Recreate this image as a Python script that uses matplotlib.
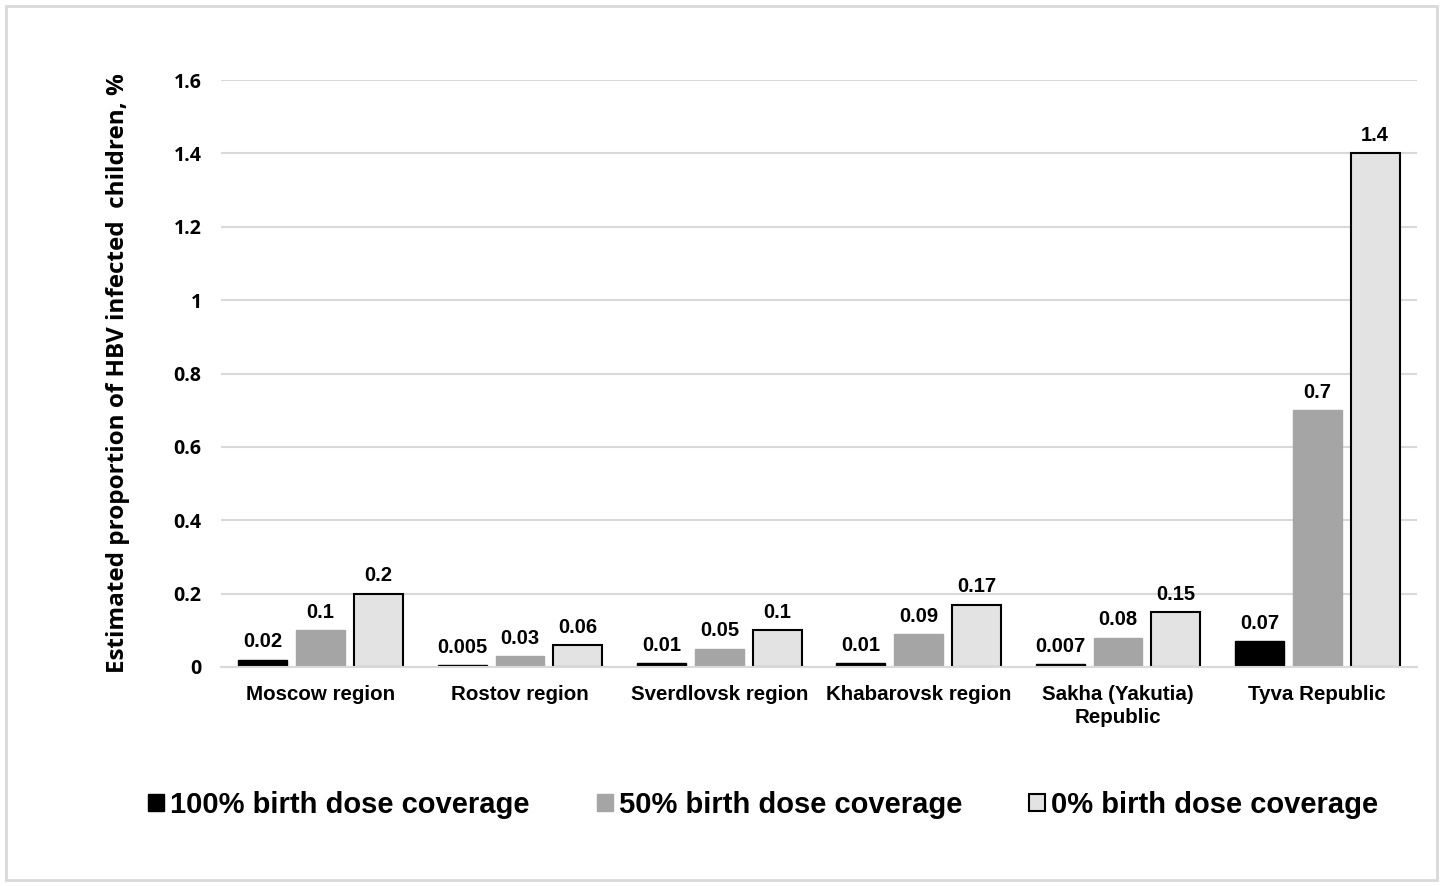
import numpy as np
import matplotlib
matplotlib.use("Agg")
import matplotlib.pyplot as plt
from matplotlib.patches import Rectangle

regions = ["Moscow region", "Rostov region", "Sverdlovsk region",
           "Khabarovsk region", "Sakha (Yakutia)\nRepublic", "Tyva Republic"]
cov_100 = [0.02, 0.005, 0.01, 0.01, 0.007, 0.07]
cov_50 = [0.1, 0.03, 0.05, 0.09, 0.08, 0.7]
cov_0 = [0.2, 0.06, 0.1, 0.17, 0.15, 1.4]
labels_100 = ["0.02", "0.005", "0.01", "0.01", "0.007", "0.07"]
labels_50 = ["0.1", "0.03", "0.05", "0.09", "0.08", "0.7"]
labels_0 = ["0.2", "0.06", "0.1", "0.17", "0.15", "1.4"]
series_names = ["100% birth dose coverage", "50% birth dose coverage", "0% birth dose coverage"]
yticks = [0, 0.2, 0.4, 0.6, 0.8, 1, 1.2, 1.4, 1.6]
ytick_labels = ["0", "0.2", "0.4", "0.6", "0.8", "1", "1.2", "1.4", "1.6"]

arial = "Liberation Sans"
sans = "Open Sans"

fig = plt.figure(figsize=(14.43, 8.86), dpi=100)
ax = fig.add_axes([221 / 1443, 1 - 667 / 886, (1417 - 221) / 1443, 587 / 886])

x = np.arange(len(regions))
w = 0.245
off = 0.29
b1 = ax.bar(x - off, cov_100, w, color="black", edgecolor="black", linewidth=1)
b2 = ax.bar(x, cov_50, w, color="#a5a5a5", edgecolor="#a5a5a5", linewidth=1)
b3 = ax.bar(x + off, cov_0, w, color="#e3e3e3", edgecolor="black", linewidth=1.5)

for bars, labs in [(b1, labels_100), (b2, labels_50), (b3, labels_0)]:
    ax.bar_label(bars, labels=labs, padding=6, fontsize=14.5,
                 fontweight="bold", family=arial)

ax.set_xlim(-0.5, len(regions) - 0.5)
ax.set_ylim(0, 1.6)
ax.set_yticks(yticks)
ax.set_yticklabels(ytick_labels, fontsize=14, fontweight="bold", family=sans)
ax.set_xticks(x)
ax.set_xticklabels(regions, fontsize=14.8, fontweight="bold", family=arial,
                   linespacing=1.25)
ax.tick_params(axis="both", length=0)
ax.tick_params(axis="y", pad=14)
ax.tick_params(axis="x", pad=13)
ax.grid(axis="y", color="#d9d9d9", linewidth=1.5)
ax.set_axisbelow(True)
for s in ["top", "right", "left"]:
    ax.spines[s].set_visible(False)
ax.spines["bottom"].set_color("#d9d9d9")
ax.spines["bottom"].set_linewidth(1.5)

ax.set_ylabel("Estimated proportion of HBV infected  children, %", fontsize=17.5,
              fontweight="bold", family=sans, labelpad=31)

leg = fig.legend([b1, b2, b3], series_names, loc="center", ncol=3,
                 bbox_to_anchor=(0.529, 1 - 805 / 886), frameon=False,
                 prop={"family": arial, "weight": "bold", "size": 21},
                 handlelength=0.55, handleheight=0.55, handletextpad=0.2,
                 columnspacing=2.3)

fig.patches.append(Rectangle((6 / 1443, 6 / 886), 1431 / 1443, 874 / 886,
                             transform=fig.transFigure, fill=False,
                             edgecolor="#d9d9d9", linewidth=2))

fig.savefig("out.png", dpi=100)
